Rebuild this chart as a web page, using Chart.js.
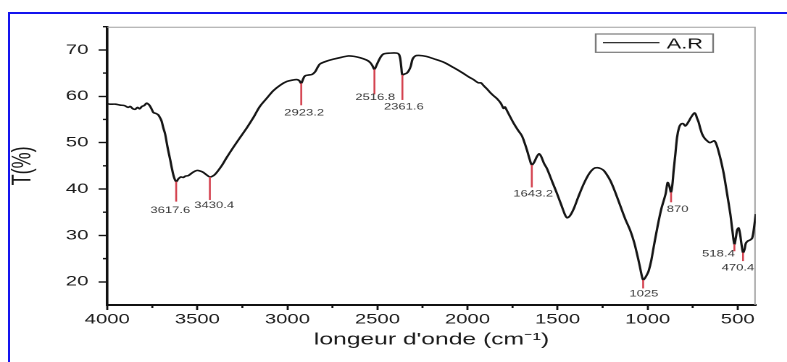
<!DOCTYPE html>
<html>
<head>
<meta charset="utf-8">
<title>IR spectrum A.R</title>
<script src="https://cdn.jsdelivr.net/npm/chart.js@4.4.1/dist/chart.umd.min.js"></script>
<style>
  html, body { margin: 0; padding: 0; background: #fff; }
  body { width: 787px; height: 362px; overflow: hidden; position: relative; }
  /* blue frame of the original figure (only top and left show) */
  #frame { position: absolute; left: 8px; top: 12px; width: 820px; height: 400px;
           border-top: 2px solid #1414ee; border-left: 2px solid #1414ee; }
  /* the source image is stretched horizontally, so the chart is too */
  #wrap { position: absolute; left: 0; top: 0; width: 543px; height: 362px;
          transform: scaleX(1.4494); transform-origin: 0 0; }
</style>
</head>
<body>
<div id="frame"></div>
<div id="wrap"><canvas id="chart" width="543" height="362"></canvas></div>
<script>
// FTIR spectrum of sample A.R
const wavenumber = [
  4000, 3984, 3955, 3930, 3905, 3885, 3872, 3858, 3845, 3832, 3820, 3808, 3795, 3782, 3772, 3763,
  3752, 3744, 3730, 3717, 3706, 3698, 3689, 3679, 3670, 3661, 3650, 3642, 3630, 3617.6, 3605, 3592,
  3578, 3565, 3550, 3525, 3503, 3485, 3467, 3450, 3430.4, 3410, 3392, 3365, 3337, 3300, 3263, 3225,
  3189, 3153, 3114, 3078, 3040, 3003, 2970, 2948, 2935, 2923.2, 2913, 2902, 2880, 2864, 2846, 2830,
  2818, 2780, 2744, 2700, 2661, 2630, 2596, 2560, 2541, 2528, 2516.8, 2505, 2485, 2467, 2430, 2392,
  2380, 2373, 2367, 2361.6, 2350, 2337, 2325, 2315, 2305, 2290, 2270, 2230, 2189, 2130, 2078, 2030,
  1990, 1967, 1940, 1925, 1911, 1890, 1874, 1855, 1837, 1815, 1800, 1792, 1785, 1765, 1744, 1720,
  1700, 1689, 1670, 1655, 1643.2, 1630, 1615, 1603, 1592, 1575, 1559, 1530, 1503, 1475, 1458, 1447,
  1432, 1411, 1385, 1355, 1325, 1300, 1280, 1260, 1244, 1225, 1207, 1189, 1170, 1152, 1125, 1096,
  1075, 1059, 1045, 1033, 1025, 1015, 1003, 994, 980, 967, 953, 939, 925, 911, 900, 889,
  880, 870, 862, 856, 846, 837, 826, 815, 803, 791, 775, 760, 748, 740, 733, 726,
  717, 708, 698, 685, 670, 655, 642, 630, 620, 612, 600, 590, 577, 560, 541, 530,
  518.4, 510, 503, 495, 487, 478, 470.4, 462, 455, 444, 432, 420, 410, 400
];
const transmittance = [
  58.4, 58.3, 58.3, 58.1, 58.0, 57.6, 57.8, 57.3, 57.2, 57.6, 57.3, 57.8, 58.0, 58.5, 58.3, 57.9,
  57.1, 56.5, 56.3, 56.0, 55.3, 54.6, 53.2, 51.9, 50.0, 48.2, 46.2, 44.6, 42.6, 41.6, 42.2, 42.6,
  42.5, 42.8, 42.9, 43.6, 44.0, 43.9, 43.6, 43.1, 42.6, 42.9, 43.6, 45.0, 46.8, 49.0, 51.1, 53.2,
  55.4, 57.8, 59.6, 61.2, 62.4, 63.2, 63.5, 63.6, 63.4, 62.8, 63.7, 64.4, 64.6, 64.7, 65.3, 66.4,
  67.0, 67.6, 68.0, 68.4, 68.7, 68.6, 68.3, 67.8, 67.3, 66.6, 65.8, 66.7, 68.3, 69.1, 69.3, 69.3,
  69.0, 68.0, 66.0, 64.6, 64.8, 65.0, 65.6, 66.5, 68.0, 68.7, 68.8, 68.6, 68.1, 67.3, 66.2, 65.1,
  64.1, 63.6, 62.9, 62.9, 62.3, 61.5, 60.8, 60.1, 59.5, 58.5, 57.4, 57.7, 57.2, 55.7, 54.2, 52.7,
  51.6, 50.6, 48.4, 46.4, 45.2, 45.8, 47.0, 47.6, 47.1, 45.5, 44.4, 41.6, 39.0, 36.1, 34.4, 33.8,
  34.2, 35.7, 38.3, 41.1, 43.3, 44.4, 44.6, 44.4, 44.0, 43.0, 41.8, 40.2, 38.3, 36.4, 33.6, 31.0,
  28.5, 26.0, 23.6, 21.4, 20.4, 20.8, 21.6, 22.4, 24.6, 27.4, 30.3, 33.1, 35.6, 37.5, 39.0, 41.4,
  40.7, 39.3, 41.2, 43.9, 47.6, 51.1, 53.2, 54.0, 54.1, 53.6, 54.4, 55.4, 56.1, 56.4, 56.1, 55.3,
  54.4, 53.1, 51.9, 51.0, 50.4, 50.0, 50.2, 50.4, 49.8, 48.9, 47.2, 45.6, 43.2, 39.2, 34.6, 31.2,
  28.1, 29.6, 31.2, 31.6, 30.3, 27.8, 26.3, 27.0, 28.3, 28.8, 29.0, 29.4, 31.5, 34.6
];

const xTicks = [4000, 3500, 3000, 2500, 2000, 1500, 1000, 500];
const xMinorTicks = [3750, 3250, 2750, 2250, 1750, 1250, 750];
const yTicks = [20, 30, 40, 50, 60, 70];
const yMinorTicks = [25, 35, 45, 55, 65, 75];

// labelled absorption bands
const peakWn = [3617.6, 3430.4, 2923.2, 2516.8, 2361.6, 1643.2, 1025, 870, 518.4, 470.4];
const peakT = [41.6, 42.6, 62.8, 65.8, 64.6, 45.2, 20.4, 39.3, 28.1, 26.3];
const peakLabels = ["3617.6", "3430.4", "2923.2", "2516.8", "2361.6", "1643.2", "1025", "870", "518.4", "470.4"];

// marker line length and label offset (px) for each band
const peakMarkStyle = [
  { len: 20, dx: -4, dy: 9 },
  { len: 23, dx: 3, dy: 5.5 },
  { len: 22, dx: 2, dy: 7.5 },
  { len: 25, dx: 0.5, dy: 3 },
  { len: 25, dx: 1, dy: 7 },
  { len: 22.5, dx: 1, dy: 6.5 },
  { len: 8.5, dx: 0.5, dy: 5.5 },
  { len: 10, dx: 4.5, dy: 7 },
  { len: 7, dx: -11, dy: 3 },
  { len: 8.5, dx: -3.5, dy: 7 }
];

const FONT = '"Liberation Sans", Arial, sans-serif';

const spectrumDecor = {
  id: 'spectrumDecor',
  beforeDatasetsDraw(chart) {
    // light box on top / right of the plot
    const { ctx, chartArea: a } = chart;
    ctx.save();
    ctx.strokeStyle = '#a0a0a0';
    ctx.lineWidth = 1;
    ctx.beginPath();
    ctx.moveTo(a.left, a.top + 0.5);
    ctx.lineTo(a.right - 0.5, a.top + 0.5);
    ctx.lineTo(a.right - 0.5, a.bottom);
    ctx.stroke();
    ctx.restore();
  },
  afterDatasetsDraw(chart) {
    const { ctx, scales: { x, y } } = chart;
    ctx.save();
    // minor ticks
    ctx.strokeStyle = '#111';
    ctx.lineWidth = 1.4;
    ctx.beginPath();
    xMinorTicks.forEach(v => {
      const px = x.getPixelForValue(v);
      ctx.moveTo(px, x.top);
      ctx.lineTo(px, x.top + 3);
    });
    yMinorTicks.forEach(v => {
      const py = y.getPixelForValue(v);
      ctx.moveTo(y.right, py);
      ctx.lineTo(y.right - 3, py);
    });
    ctx.stroke();

    // band markers
    ctx.font = '9px ' + FONT;
    ctx.textAlign = 'center';
    ctx.textBaseline = 'middle';
    peakWn.forEach((wn, i) => {
      const s = peakMarkStyle[i];
      const px = x.getPixelForValue(wn);
      const py = y.getPixelForValue(peakT[i]);
      ctx.strokeStyle = '#d4424f';
      ctx.lineWidth = 1.3;
      ctx.beginPath();
      ctx.moveTo(px, py);
      ctx.lineTo(px, py + s.len);
      ctx.stroke();
      ctx.fillStyle = '#3a3a3a';
      ctx.fillText(peakLabels[i], px + s.dx, py + s.len + s.dy);
    });
    ctx.restore();
  },
  afterDraw(chart) {
    // boxed legend, top right inside the plot
    const { ctx, chartArea: a } = chart;
    const ds = chart.data.datasets[0];
    const bw = 81, bh = 18.3;
    const bx = a.right - 29.4 - bw, by = a.top + 7.3;
    ctx.save();
    ctx.strokeStyle = '#7a7a7a';
    ctx.lineWidth = 1.2;
    ctx.strokeRect(bx, by, bw, bh);
    ctx.strokeStyle = ds.borderColor;
    ctx.lineWidth = 1.2;
    ctx.beginPath();
    ctx.moveTo(bx + 5, by + 8.7);
    ctx.lineTo(bx + 44, by + 8.7);
    ctx.stroke();
    ctx.fillStyle = '#111';
    ctx.font = '15px ' + FONT;
    ctx.textAlign = 'left';
    ctx.textBaseline = 'alphabetic';
    ctx.fillText(ds.label, bx + 49, by + 14.3);
    ctx.restore();
  }
};

new Chart(document.getElementById('chart'), {
  type: 'line',
  data: {
    datasets: [{
      label: 'A.R',
      data: wavenumber.map((w, i) => ({ x: w, y: transmittance[i] })),
      borderColor: '#151515',
      borderWidth: 1.6,
      pointRadius: 0,
      tension: 0.3,
      fill: false
    }]
  },
  options: {
    responsive: false,
    animation: false,
    devicePixelRatio: 2,
    layout: { padding: { top: 26.7, right: 21.6, bottom: 0, left: 0 } },
    plugins: { legend: { display: false }, tooltip: { enabled: false } },
    scales: {
      x: {
        type: 'linear',
        reverse: true,
        min: 400,
        max: 4000,
        afterBuildTicks: s => { s.ticks = xTicks.map(v => ({ value: v })); },
        afterFit: s => { s.height = 57; },
        grid: { drawOnChartArea: false, tickLength: 5, tickWidth: 1.4, tickColor: '#111' },
        border: { color: '#111', width: 2 },
        ticks: {
          color: '#1a1a1a',
          font: { size: 14, family: FONT },
          padding: 1,
          maxRotation: 0,
          autoSkip: false,
          callback: v => String(v)
        },
        title: {
          display: true,
          text: "longeur d'onde (cm⁻¹)",
          color: '#1a1a1a',
          font: { size: 17, family: FONT },
          padding: { top: 0, bottom: 12 }
        }
      },
      y: {
        min: 15,
        max: 75,
        afterBuildTicks: s => { s.ticks = yTicks.map(v => ({ value: v })); },
        afterFit: s => { s.width = 74; },
        grid: { drawOnChartArea: false, tickLength: 6, tickWidth: 1.4, tickColor: '#111' },
        border: { color: '#111', width: 1.8 },
        ticks: { color: '#1a1a1a', font: { size: 14, family: FONT }, padding: 7, callback: v => String(v) },
        title: {
          display: true,
          text: 'T(%)',
          color: '#1a1a1a',
          font: { size: 18, family: FONT },
          padding: { top: 5, bottom: 0 }
        }
      }
    }
  },
  plugins: [spectrumDecor]
});
</script>
</body>
</html>
